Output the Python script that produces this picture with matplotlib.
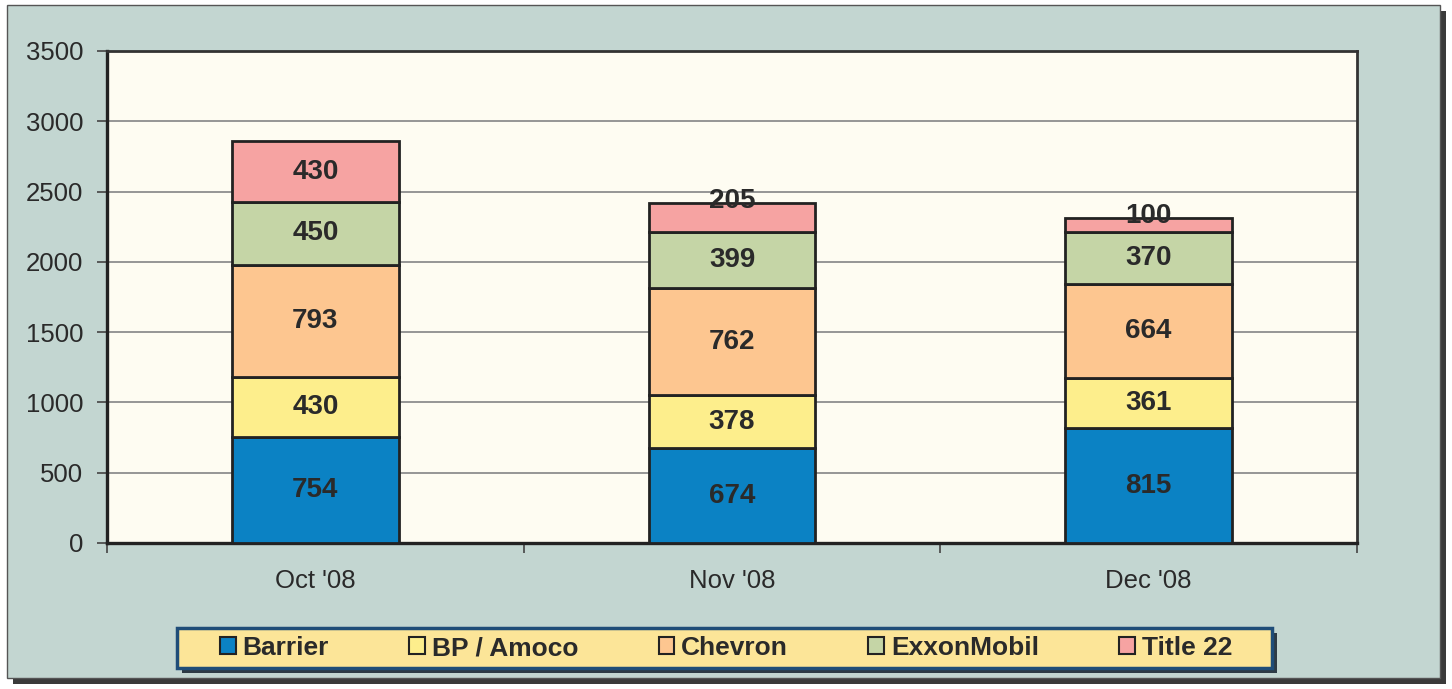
#!/usr/bin/env python3
"""Stacked monthly volumes by source, Oct-Dec 2008."""

import matplotlib
matplotlib.use("Agg")
import matplotlib.pyplot as plt
import numpy as np
from matplotlib.patches import Rectangle

plt.rcParams["font.family"] = ["Liberation Sans", "DejaVu Sans"]

# Data
months = ["Oct '08", "Nov '08", "Dec '08"]
series_names = ["Barrier", "BP / Amoco", "Chevron", "ExxonMobil", "Title 22"]
barrier = [754, 674, 815]
bp_amoco = [430, 378, 361]
chevron = [793, 762, 664]
exxonmobil = [450, 399, 370]
title_22 = [430, 205, 100]

series_values = [barrier, bp_amoco, chevron, exxonmobil, title_22]
series_colors = ["#0b82c4", "#fdee8c", "#fdc690", "#c5d5a6", "#f6a3a2"]

BG = "#c3d6d1"
EDGE = "#222222"
TEXT = "#2a2a2a"

W, H = 1452, 689
fig = plt.figure(figsize=(W / 100, H / 100), dpi=100, facecolor="white")


def fig_rect(x0, y0, x1, y1, **kw):
    """Rectangle given in pixel coords (y from top) on the figure."""
    r = Rectangle((x0 / W, 1 - y1 / H), (x1 - x0) / W, (y1 - y0) / H,
                  transform=fig.transFigure, **kw)
    fig.patches.append(r)
    return r


# Outer frame with drop shadow (kept behind the axes)
fig_rect(13, 11, 1446, 684, facecolor="#3a3a3a", edgecolor="none", zorder=-10)
fig_rect(7, 5, 1440, 678, facecolor=BG, edgecolor="#555555", linewidth=1.0,
         zorder=-9)

# Legend box with shadow
fig_rect(182, 633, 1277, 673, facecolor="#2e3b45", edgecolor="none", zorder=1)
fig_rect(177, 628, 1272, 668, facecolor="#fce598", edgecolor="#1f4d78",
         linewidth=2.5, zorder=2)

ax = fig.add_axes([107 / W, 146 / H, 1250 / W, 492 / H])
ax.set_facecolor("#fefcf2")

x = np.arange(len(months))
bottom = np.zeros(len(months))
for name, vals, color in zip(series_names, series_values, series_colors):
    vals = np.array(vals, dtype=float)
    ax.bar(x, vals, width=0.4, bottom=bottom, color=color, edgecolor=EDGE,
           linewidth=2.0, label=name, zorder=3)
    for xi, b, v in zip(x, bottom, vals):
        if v < 250:
            y = b + v + 15
        else:
            y = b + v / 2
        ax.text(xi, y, f"{int(v)}", ha="center", va="center", fontsize=20,
                fontweight="bold", color=TEXT, zorder=4)
    bottom += vals

ax.set_xlim(-0.5, len(months) - 0.5)
ax.set_ylim(0, 3500)
ax.set_yticks(np.arange(0, 3501, 500))
ax.yaxis.grid(True, color="#8e8e8e", linewidth=1.3, zorder=1)
ax.set_axisbelow(True)

ax.set_xticks(x)
ax.set_xticklabels(months)
ax.set_xticks(np.arange(-0.5, len(months)), minor=True)
ax.tick_params(axis="x", which="major", length=0, pad=19, labelsize=18.5,
               labelcolor=TEXT)
ax.tick_params(axis="x", which="minor", length=7, width=1.2, color="#444444",
               direction="out")
ax.tick_params(axis="y", length=7, width=1.2, color="#444444", pad=10,
               labelsize=18.5, labelcolor=TEXT)

for side in ["left", "bottom"]:
    ax.spines[side].set_linewidth(2.4)
    ax.spines[side].set_color(EDGE)
for side in ["top", "right"]:
    ax.spines[side].set_linewidth(2.0)
    ax.spines[side].set_color("#333333")

leg = fig.legend(loc="center", bbox_to_anchor=(726 / W, 1 - 648 / H),
                 ncol=5, frameon=False,
                 prop={"size": 19, "weight": "bold"},
                 handlelength=0.6, handleheight=0.6, handletextpad=0.25,
                 columnspacing=3.05, borderpad=0.0, borderaxespad=0)
leg.set_zorder(5)
for txt in leg.get_texts():
    txt.set_color(TEXT)
for h in leg.legend_handles:
    h.set_linewidth(1.5)

fig.savefig("out.png", dpi=100, facecolor=fig.get_facecolor())
